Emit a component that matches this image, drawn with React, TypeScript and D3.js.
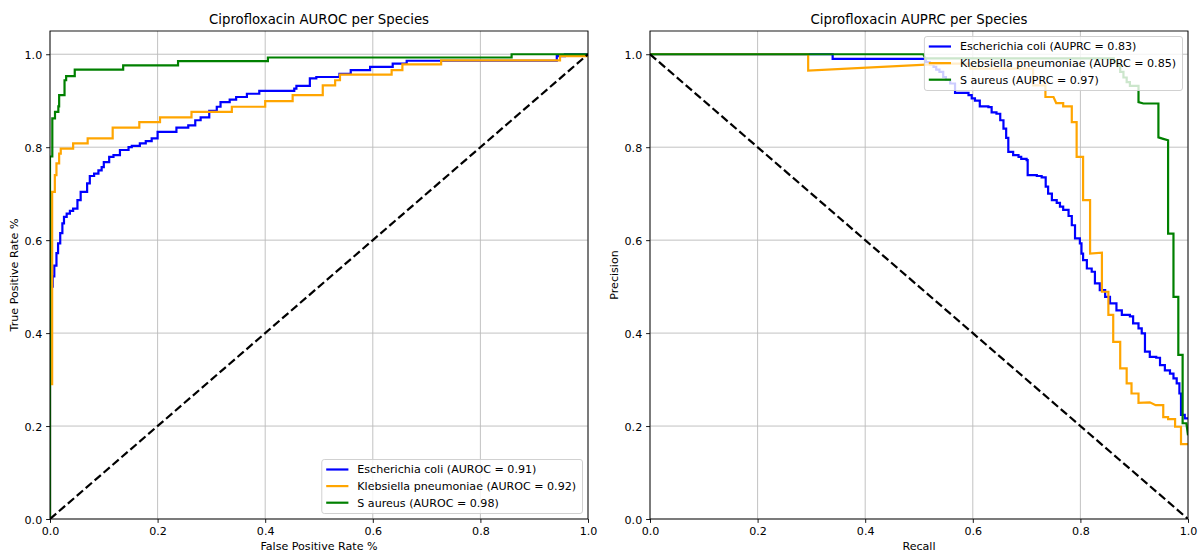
import React, { useEffect, useRef } from 'react';
import * as d3 from 'd3';

// ---------- data ----------
const speciesNames = ['Escherichia coli', 'Klebsiella pneumoniae', 'S aureus'];
const speciesColors = ['blue', 'orange', 'green'];
const aurocValues = [0.91, 0.92, 0.98];
const auprcValues = [0.83, 0.85, 0.97];
const axisTicks = [0, 0.2, 0.4, 0.6, 0.8, 1.0];

// ROC curves (fpr, tpr) – step points
const ecoliRoc: [number, number][] = [
  [0, 0], [0, 0.5], [0.005, 0.522], [0.008, 0.545], [0.012, 0.572], [0.015, 0.593], [0.019, 0.615],
  [0.023, 0.636], [0.026, 0.65], [0.031, 0.657], [0.037, 0.663], [0.043, 0.668], [0.051, 0.686],
  [0.057, 0.704], [0.069, 0.722], [0.074, 0.738], [0.082, 0.743], [0.09, 0.75], [0.096, 0.757],
  [0.1, 0.768], [0.11, 0.779], [0.118, 0.783], [0.13, 0.794], [0.146, 0.8], [0.152, 0.803],
  [0.167, 0.808], [0.178, 0.813], [0.189, 0.819], [0.2, 0.833], [0.235, 0.842], [0.257, 0.847],
  [0.27, 0.858], [0.28, 0.864], [0.296, 0.878], [0.31, 0.887], [0.317, 0.897], [0.334, 0.9025],
  [0.346, 0.908], [0.366, 0.915], [0.389, 0.921], [0.454, 0.926], [0.458, 0.932], [0.483, 0.948],
  [0.495, 0.951], [0.538, 0.958], [0.559, 0.966], [0.595, 0.973], [0.637, 0.98], [0.663, 0.986],
  [0.942, 0.996], [0.957, 1.0], [1, 1],
];
const klebRoc: [number, number][] = [
  [0, 0], [0, 0.29], [0.004, 0.704], [0.009, 0.74], [0.012, 0.765], [0.017, 0.786], [0.02, 0.797],
  [0.043, 0.808], [0.07, 0.819], [0.1165, 0.842], [0.166, 0.854], [0.2045, 0.864], [0.263, 0.876],
  [0.338, 0.887], [0.4, 0.899], [0.451, 0.912], [0.507, 0.933], [0.53, 0.944], [0.539, 0.956],
  [0.635, 0.966], [0.655, 0.978], [0.727, 0.987], [0.948, 0.996], [1, 1],
];
const saureusRoc: [number, number][] = [
  [0, 0], [0, 0.78], [0.0043, 0.862], [0.0093, 0.876], [0.0155, 0.888], [0.017, 0.912],
  [0.027, 0.944], [0.03, 0.953], [0.046, 0.967], [0.136, 0.976], [0.238, 0.985], [0.405, 0.993],
  [0.858, 1.0], [1, 1],
];

// PR curves (recall, precision)
const ecoliPr: [number, number][] = [
  [0, 1], [0.3395, 0.99], [0.513, 0.983], [0.52, 0.978], [0.527, 0.973], [0.532, 0.967], [0.538, 0.962],
  [0.545, 0.951], [0.55, 0.945], [0.558, 0.937], [0.567, 0.917], [0.592, 0.912], [0.598, 0.905],
  [0.604, 0.9], [0.613, 0.888], [0.629, 0.886], [0.635, 0.875], [0.644, 0.872], [0.651, 0.858],
  [0.657, 0.84], [0.662, 0.82], [0.666, 0.79], [0.675, 0.783], [0.685, 0.779], [0.69, 0.775],
  [0.7, 0.772], [0.702, 0.74], [0.719, 0.738], [0.728, 0.735], [0.7355, 0.715], [0.74, 0.7],
  [0.747, 0.686], [0.756, 0.68], [0.762, 0.672], [0.768, 0.665], [0.778, 0.652], [0.784, 0.632],
  [0.79, 0.604], [0.799, 0.593], [0.802, 0.571], [0.805, 0.557], [0.812, 0.539], [0.821, 0.532],
  [0.827, 0.507], [0.836, 0.4925], [0.846, 0.478], [0.855, 0.464], [0.867, 0.449], [0.877, 0.439],
  [0.892, 0.436], [0.898, 0.421], [0.908, 0.41], [0.914, 0.3993], [0.92, 0.36], [0.929, 0.349],
  [0.941, 0.347], [0.948, 0.331], [0.957, 0.32], [0.9665, 0.313], [0.973, 0.3025], [0.979, 0.292],
  [0.984, 0.27], [0.987, 0.224], [0.994, 0.2165], [1.0, 0.215],
];
const klebPr: [number, number][] = [
  [0, 1], [0.294, 1], [0.294, 0.965], [0.55, 0.98], [0.595, 0.98], [0.595, 0.969], [0.712, 0.969],
  [0.712, 0.933], [0.735, 0.933], [0.735, 0.908], [0.75, 0.908], [0.755, 0.895], [0.768, 0.895],
  [0.768, 0.888], [0.784, 0.888], [0.784, 0.854], [0.793, 0.854], [0.793, 0.779], [0.805, 0.779],
  [0.805, 0.686], [0.818, 0.686], [0.818, 0.571], [0.84, 0.573], [0.84, 0.489], [0.852, 0.489],
  [0.852, 0.439], [0.861, 0.439], [0.861, 0.381], [0.874, 0.381], [0.874, 0.324], [0.886, 0.324],
  [0.886, 0.292], [0.895, 0.292], [0.895, 0.27], [0.908, 0.27], [0.908, 0.25], [0.929, 0.251],
  [0.94, 0.245], [0.954, 0.245], [0.954, 0.219], [0.963, 0.219], [0.963, 0.215], [0.976, 0.215],
  [0.976, 0.1985], [0.987, 0.1985], [0.987, 0.161], [1.0, 0.161],
];
const saureusPr: [number, number][] = [
  [0, 1], [0.508, 1], [0.512, 0.991], [0.862, 0.991], [0.862, 0.985], [0.868, 0.985], [0.868, 0.975],
  [0.874, 0.975], [0.874, 0.962], [0.88, 0.962], [0.88, 0.95], [0.886, 0.95], [0.886, 0.94],
  [0.892, 0.94], [0.892, 0.932], [0.908, 0.932], [0.908, 0.897], [0.917, 0.894], [0.945, 0.894],
  [0.945, 0.821], [0.954, 0.818], [0.963, 0.815], [0.963, 0.614], [0.973, 0.614], [0.973, 0.478],
  [0.982, 0.478], [0.982, 0.353], [0.99, 0.353], [0.99, 0.206], [0.997, 0.206], [1.0, 0.18],
];

const rocDiagonal: [number, number][] = [[0, 0], [1, 1]];
const prDiagonal: [number, number][] = [[0, 1], [1, 0]];

// ---------- layout ----------
const WIDTH = 1198;
const HEIGHT = 553;
const TOP = 31;
const BOTTOM = 519;
const PLOT_W = 538;
const FONT = 'DejaVu Sans';
const FS = 11.1;
const TITLE_FS = 13.3;

type Series = { data: [number, number][]; color: string; step: boolean; label: string };

function drawPanel(
  svg: d3.Selection<SVGSVGElement, unknown, null, undefined>,
  idx: number,
  left: number,
  title: string,
  xLabel: string,
  yLabel: string,
  series: Series[],
  diagonal: [number, number][],
  legendPos: 'lower' | 'upper'
) {
  const x = d3.scaleLinear().domain([0, 1]).range([left, left + PLOT_W]);
  const y = d3.scaleLinear().domain([0, 1.05]).range([BOTTOM, TOP]);
  const g = svg.append('g');
  const clipId = `clip-${idx}`;
  g.append('clipPath').attr('id', clipId).append('rect')
    .attr('x', left).attr('y', TOP).attr('width', PLOT_W).attr('height', BOTTOM - TOP);

  // grid
  const grid = g.append('g').attr('stroke', '#b0b0b0').attr('stroke-width', 0.9).attr('opacity', 0.85);
  axisTicks.forEach((t) => {
    grid.append('line').attr('x1', x(t)).attr('x2', x(t)).attr('y1', TOP).attr('y2', BOTTOM);
    grid.append('line').attr('x1', left).attr('x2', left + PLOT_W).attr('y1', y(t)).attr('y2', y(t));
  });

  const plot = g.append('g').attr('clip-path', `url(#${clipId})`);
  series.forEach((s) => {
    const line = d3.line<[number, number]>()
      .x((d) => x(d[0]))
      .y((d) => y(d[1]))
      .curve(s.step ? d3.curveStepAfter : d3.curveLinear);
    plot.append('path').datum(s.data).attr('d', line)
      .attr('fill', 'none').attr('stroke', s.color).attr('stroke-width', 2.2)
      .attr('stroke-linejoin', 'miter').attr('stroke-linecap', 'butt');
  });
  const diag = d3.line<[number, number]>().x((d) => x(d[0])).y((d) => y(d[1]));
  plot.append('path').datum(diagonal).attr('d', diag)
    .attr('fill', 'none').attr('stroke', 'black').attr('stroke-width', 2.2)
    .attr('stroke-dasharray', '8.2,3.6');

  // spines
  g.append('rect').attr('x', left).attr('y', TOP).attr('width', PLOT_W).attr('height', BOTTOM - TOP)
    .attr('fill', 'none').attr('stroke', 'black').attr('stroke-width', 0.9);

  // axes
  const fmt = d3.format('.1f');
  const xAxis = g.append('g').attr('transform', `translate(0,${BOTTOM})`)
    .call(d3.axisBottom(x).tickValues(axisTicks).tickFormat((d) => fmt(d as number))
      .tickSizeInner(3.9).tickSizeOuter(0).tickPadding(3.9));
  const yAxis = g.append('g').attr('transform', `translate(${left},0)`)
    .call(d3.axisLeft(y).tickValues(axisTicks).tickFormat((d) => fmt(d as number))
      .tickSizeInner(3.9).tickSizeOuter(0).tickPadding(3.9));
  [xAxis, yAxis].forEach((a) => {
    a.select('.domain').remove();
    a.attr('font-family', FONT).attr('font-size', FS);
    a.selectAll('line').attr('stroke', 'black').attr('stroke-width', 0.9);
    a.selectAll('text').attr('fill', 'black');
  });
  xAxis.selectAll('text').attr('dy', '0.76em');
  yAxis.selectAll('text').attr('dy', '0.36em');

  // labels
  g.append('text').attr('x', left + PLOT_W / 2).attr('y', 550)
    .attr('text-anchor', 'middle').attr('font-family', FONT).attr('font-size', FS).text(xLabel);
  g.append('text').attr('transform', `translate(${left - 32.5},${(TOP + BOTTOM) / 2}) rotate(-90)`)
    .attr('text-anchor', 'middle').attr('font-family', FONT).attr('font-size', FS).text(yLabel);
  g.append('text').attr('x', left + PLOT_W / 2).attr('y', 24.3)
    .attr('text-anchor', 'middle').attr('font-family', FONT).attr('font-size', TITLE_FS).text(title);

  // legend
  const lg = g.append('g');
  const frame = lg.append('rect');
  const pitch = 16.6;
  const pad = 4.4;
  const handleLen = 22.2;
  const textPad = 8.9;
  const boxH = 54;
  const texts: SVGTextElement[] = [];
  const boxTop = legendPos === 'lower' ? BOTTOM - 5.5 - boxH : TOP + 5.5;
  series.forEach((s, i) => {
    const cy = boxTop + 10 + i * pitch;
    lg.append('line').attr('class', 'handle').attr('y1', cy).attr('y2', cy)
      .attr('stroke', s.color).attr('stroke-width', 2.2);
    const t = lg.append('text').attr('y', cy).attr('dy', '0.36em')
      .attr('font-family', FONT).attr('font-size', FS).text(s.label);
    texts.push(t.node() as SVGTextElement);
  });
  const maxW = d3.max(texts, (t) => t.getComputedTextLength()) || 240;
  const boxW = pad + handleLen + textPad + maxW + pad + 2;
  const boxRight = left + PLOT_W - 5.5;
  const boxLeft = boxRight - boxW;
  frame.attr('x', boxLeft).attr('y', boxTop).attr('width', boxW).attr('height', boxH)
    .attr('rx', 2.5).attr('fill', 'white').attr('fill-opacity', 0.8)
    .attr('stroke', '#cccccc').attr('stroke-width', 0.9);
  lg.selectAll('line.handle').attr('x1', boxLeft + pad).attr('x2', boxLeft + pad + handleLen);
  texts.forEach((t) => d3.select(t).attr('x', boxLeft + pad + handleLen + textPad));
}

export default function App() {
  const ref = useRef<SVGSVGElement>(null);
  useEffect(() => {
    document.body.style.margin = '0';
    if (!ref.current) return;
    const svg = d3.select(ref.current);
    svg.selectAll('*').remove();
    svg.append('rect').attr('width', WIDTH).attr('height', HEIGHT).attr('fill', 'white');

    const rocData = [ecoliRoc, klebRoc, saureusRoc];
    const prData = [ecoliPr, klebPr, saureusPr];
    const rocSeries: Series[] = speciesNames.map((n, i) => ({
      data: rocData[i], color: speciesColors[i], step: true,
      label: `${n} (AUROC = ${aurocValues[i].toFixed(2)})`,
    }));
    const prSeries: Series[] = speciesNames.map((n, i) => ({
      data: prData[i], color: speciesColors[i], step: i === 0,
      label: `${n} (AUPRC = ${auprcValues[i].toFixed(2)})`,
    }));
    drawPanel(svg, 0, 50, 'Ciprofloxacin AUROC per Species', 'False Positive Rate %', 'True Positive Rate %', rocSeries, rocDiagonal, 'lower');
    drawPanel(svg, 1, 650, 'Ciprofloxacin AUPRC per Species', 'Recall', 'Precision', prSeries, prDiagonal, 'upper');
  }, []);
  return <svg ref={ref} width={WIDTH} height={HEIGHT} style={{ display: 'block' }} />;
}
